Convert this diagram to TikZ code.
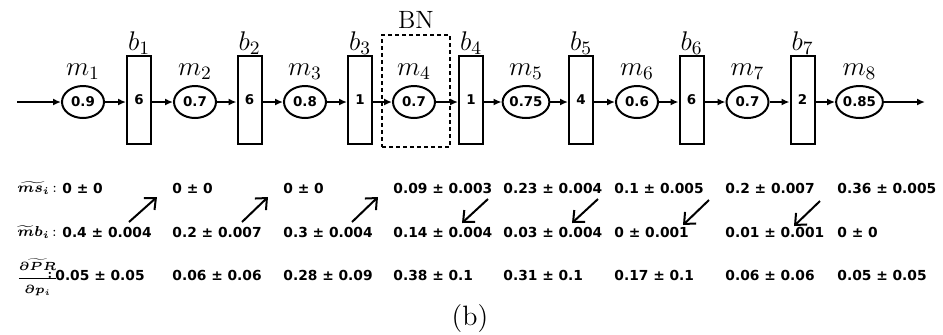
\RequirePackage{fix-cm}
\documentclass[tikz,border=0pt]{standalone}
\usepackage{amsmath}
\usepackage{fontspec}
\usetikzlibrary{shapes.geometric,arrows.meta}
\newfontfamily\numfont{DejaVu Sans}
\tikzset{
  mach/.style={draw, ellipse, line width=1pt, minimum width=21pt, minimum height=16pt, inner sep=0pt, font=\numfont\bfseries\fontsize{6.7}{7}\selectfont},
  buf/.style={draw, rectangle, line width=1pt, minimum width=12pt, minimum height=44pt, inner sep=0pt, font=\numfont\bfseries\fontsize{6.7}{7}\selectfont},
  flow/.style={line width=0.9pt, -{Latex[length=4pt,width=3.5pt]}},
  diag/.style={line width=1pt, -{Straight Barb[length=4.5pt,width=8pt]}},
  lab/.style={anchor=base, inner sep=0pt, font=\fontsize{13.5}{15}\selectfont},
  rowtxt/.style={anchor=west, inner sep=0pt, text height=5pt, text depth=0pt, font=\numfont\bfseries\fontsize{6.9}{7}\selectfont},
  rowlbl/.style={anchor=west, inner sep=0pt, font=\boldmath\fontsize{7.2}{8}\selectfont}
}
\begin{document}
\begin{tikzpicture}[x=0.5pt,y=-0.5pt]
\useasboundingbox (0,0) rectangle (943,334);
% machines
\foreach \i/\x/\v in {1/83/0.9, 2/195/0.7, 3/305/0.8, 4/414/0.7, 5/526/0.75, 6/637/0.6, 7/747.5/0.7, 8/859.5/0.85} {
  \node[mach] (m\i) at (\x,102) {\v};
  \node[lab] (ml\i) at (\x,75) {$m_{\i}$};
}
% buffers
\foreach \i/\x/\v in {1/139/6, 2/249.5/6, 3/360/1, 4/471/1, 5/581/4, 6/691.5/6, 7/802.5/2} {
  \node[buf] (b\i) at (\x,100) {\v};
  \node[lab] (bl\i) at (\x,50) {$b_{\i}$};
}
% BN box
\node[draw, dashed, dash pattern=on 2pt off 1.5pt, line width=0.8pt, minimum width=34pt, minimum height=56pt, inner sep=0pt] (bn) at (416,91) {};
\node[anchor=base, inner sep=0pt, font=\fontsize{12.5}{14}\selectfont] (bnl) at (416,28) {BN};
% flow
\coordinate (in) at (17,102);
\coordinate (out) at (925,102);
\draw[flow] (in) -- (m1);
\draw[flow] (m8) -- (out);
\foreach \i/\j in {1/2,2/3,3/4,4/5,5/6,6/7,7/8} {
  \draw[flow] (m\i) -- (m\i -| b\i.west);
  \draw[flow] (m\i -| b\i.east) -- (m\j);
}
% row labels
\node[rowlbl] (r1) at (17,188) {$\widetilde{ms_i}$\,:};
\node[rowlbl] (r2) at (17,232) {$\widetilde{m}b_i$\,:};
\node[rowlbl, font=\boldmath\fontsize{5.9}{7}\selectfont] (r3) at (16,277) {$\widetilde{\dfrac{\partial PR}{\partial p_i}}$};
\node[rowlbl, font=\bfseries\fontsize{7}{8}\selectfont] (r3c) at (47,275) {:};
% rows
\foreach \k/\x/\y/\a/\b/\c in {1/62/55/0 ± 0/0.4 ± 0.004/0.05 ± 0.05,
  2/172/172/0 ± 0/0.2 ± 0.007/0.06 ± 0.06,
  3/283/283/0 ± 0/0.3 ± 0.004/0.28 ± 0.09,
  4/393/393/0.09 ± 0.003/0.14 ± 0.004/0.38 ± 0.1,
  5/503/503/0.23 ± 0.004/0.03 ± 0.004/0.31 ± 0.1,
  6/614/614/0.1 ± 0.005/0 ± 0.001/0.17 ± 0.1,
  7/725/725/0.2 ± 0.007/0.01 ± 0.001/0.06 ± 0.06,
  8/837/837/0.36 ± 0.005/0 ± 0/0.05 ± 0.05} {
  \node[rowtxt] (s\k) at (\x,188) {\a};
  \node[rowtxt] (t\k) at (\x,232) {\b};
  \node[rowtxt] (u\k) at (\y,275) {\c};
}
% diagonal arrows
\coordinate (a1s) at (129,222); \coordinate (a1e) at (157,197);
\coordinate (a2s) at (242,222); \coordinate (a2e) at (268,197);
\coordinate (a3s) at (352,222); \coordinate (a3e) at (378,197);
\coordinate (d1s) at (488,199); \coordinate (d1e) at (462,223);
\coordinate (d2s) at (598,199); \coordinate (d2e) at (572,223);
\coordinate (d3s) at (709,200); \coordinate (d3e) at (683,225);
\coordinate (d4s) at (820,201); \coordinate (d4e) at (794,226);
\foreach \n in {a1,a2,a3,d1,d2,d3,d4} {\draw[diag] (\n s) -- (\n e);}
% caption
\node[anchor=base, inner sep=0pt, font=\fontsize{14}{16}\selectfont] (cap) at (470,325) {(b)};
\end{tikzpicture}
\end{document}
